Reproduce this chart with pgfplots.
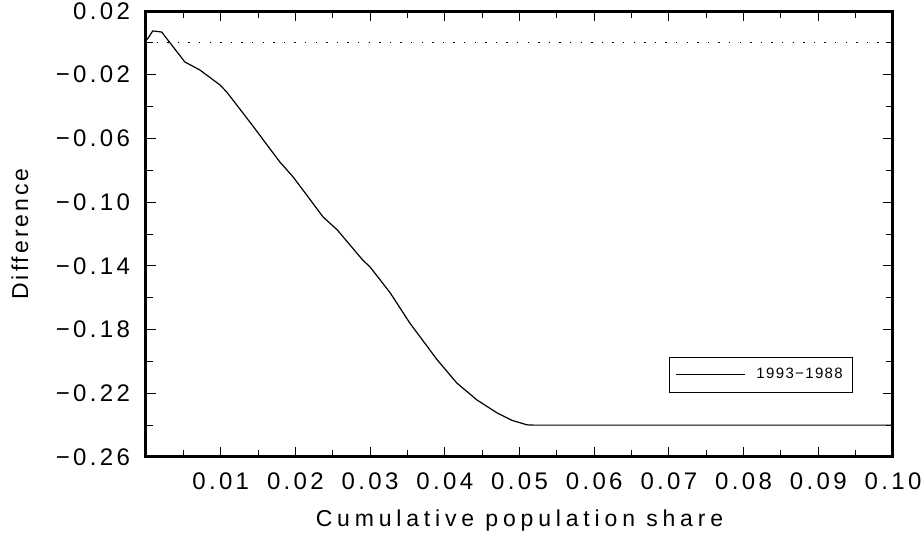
\documentclass[border=0pt]{standalone}
\usepackage{fontspec}
\setmainfont{Liberation Sans}
\newfontfamily\tickfont{Liberation Sans}[LetterSpace=14]
\newfontfamily\legfont{Liberation Sans}[LetterSpace=9]
\newfontfamily\xlabfont{Liberation Sans}[LetterSpace=21]
\newfontfamily\ylabfont{Liberation Sans}[LetterSpace=13]
\usepackage{pgfplots}
\pgfplotsset{compat=1.18}
\begin{document}
\begin{tikzpicture}
\useasboundingbox (-73pt,-42pt) rectangle (388.5pt,228.5pt);
\begin{axis}[
  at={(0pt,0pt)}, anchor=south west,
  scale only axis, width=373.5pt, height=223pt,
  xmin=0, xmax=0.10, ymin=-0.26, ymax=0.02,
  axis line style={line width=1.5pt},
  tick style={line width=0.5pt, black},
  tick align=inside,
  xtick={0.01,0.02,0.03,0.04,0.05,0.06,0.07,0.08,0.09,0.10},
  xticklabels={0.01,0.02,0.03,0.04,0.05,0.06,0.07,0.08,0.09,0.10},
  minor xtick={0.005,0.015,0.025,0.035,0.045,0.055,0.065,0.075,0.085,0.095},
  ytick={0.02,-0.02,-0.06,-0.10,-0.14,-0.18,-0.22,-0.26},
  yticklabels={0.02,−0.02,−0.06,−0.10,−0.14,−0.18,−0.22,−0.26},
  minor ytick={0,-0.04,-0.08,-0.12,-0.16,-0.20,-0.24},
  major tick length=5pt, minor tick length=3.3pt,
  ticklabel style={font=\tickfont\fontsize{12}{14}\selectfont},
  yticklabel style={xshift=-4.5pt},
  xticklabel style={yshift=-4.5pt},
  xlabel={Cumulative population share},
  ylabel={Difference},
  xlabel style={font=\xlabfont\fontsize{11.5}{13}\selectfont, at={([yshift=-32pt]axis description cs:0.5,0)}, anchor=center},
  ylabel style={font=\ylabfont\fontsize{11.5}{13}\selectfont, at={([xshift=-63pt]axis description cs:0,0.5)}, anchor=center, rotate=0},
  legend style={at={(0.700,0.1435)}, anchor=south west, draw=black, line width=0.5pt,
    font=\legfont\fontsize{7.5}{8}\selectfont, inner xsep=3pt, inner ysep=3.5pt},
  legend image code/.code={\draw[#1, line width=0.5pt] (0pt,0pt) -- (34.5pt,0pt); \path (38pt,0pt);},
]
\addplot[black, line width=0.5pt, dash pattern=on 0.7pt off 4.6pt, forget plot] coordinates {(0,0) (0.10,0)};
\addplot[black, line width=0.6pt] coordinates {
(0.0000,0.0015) (0.0003,0.0031) (0.0009,0.0075) (0.0021,0.0068) (0.0052,-0.0120)
(0.0072,-0.0170) (0.0099,-0.0264) (0.0108,-0.0308) (0.0142,-0.0515) (0.0179,-0.0747)
(0.0197,-0.0842) (0.0220,-0.0986) (0.0237,-0.1093) (0.0256,-0.1174) (0.0290,-0.1363)
(0.0300,-0.1407) (0.0327,-0.1570) (0.0353,-0.1758) (0.0390,-0.1991) (0.0416,-0.2135)
(0.0443,-0.2242) (0.0470,-0.2323) (0.0490,-0.2370) (0.0510,-0.2398) (0.0520,-0.2400)
(0.1000,-0.2400)};
\addlegendentry{1993−1988}
\end{axis}
\end{tikzpicture}
\end{document}
